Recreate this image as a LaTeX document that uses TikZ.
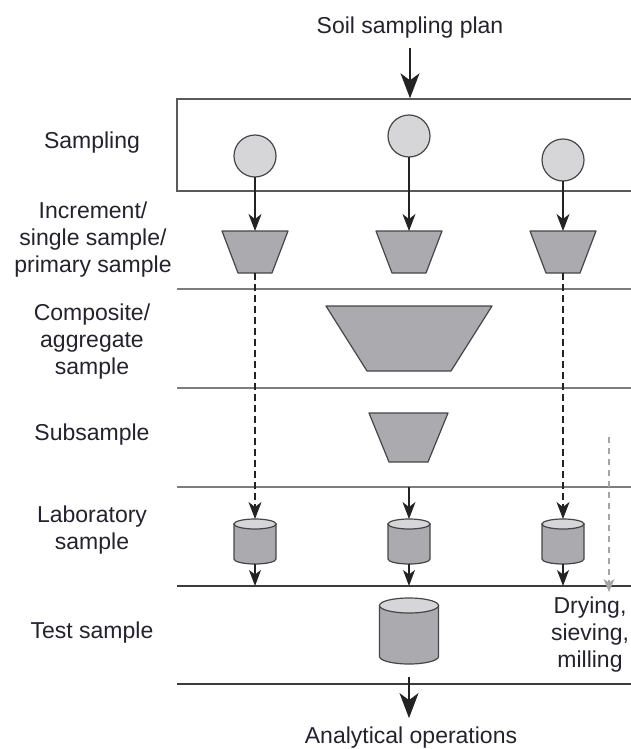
\documentclass[tikz,border=0pt]{standalone}
\usepackage{fontspec}
\setmainfont{Liberation Sans}
\usetikzlibrary{arrows.meta}
\definecolor{txt}{RGB}{35,35,45}
\definecolor{circfill}{RGB}{214,214,217}
\definecolor{trapfill}{RGB}{170,170,175}
\definecolor{outl}{RGB}{70,70,72}
\definecolor{lgline}{RGB}{125,125,125}
\definecolor{dkline}{RGB}{60,60,60}
\definecolor{boxline}{RGB}{90,90,90}
\definecolor{arrcol}{RGB}{35,35,35}
\definecolor{gdash}{RGB}{165,165,165}
\newcommand\drawtrap[2]{\filldraw[trap] (#1.north west) -- (#1.north east) -- ([xshift=-#2]#1.south east) -- ([xshift=#2]#1.south west) -- cycle;}
\newcommand\drawcyl[3]{%
  \filldraw[cylb] ([yshift=-#3]#1.north west) -- ([yshift=#3]#1.south west) arc[start angle=180,end angle=360,x radius=#2,y radius=#3] -- ([yshift=-#3]#1.north east) -- cycle;
  \filldraw[cylt] ([yshift=-#3]#1.north) ellipse[x radius=#2,y radius=#3];}
\begin{document}
\begin{tikzpicture}[x=1pt,y=1pt,
  lbl/.style={font=\fontsize{23}{27}\selectfont, text=txt, align=center, inner sep=0pt},
  hlinel/.style={draw=lgline, line width=1.4pt},
  hlined/.style={draw=dkline, line width=1.4pt},
  frame/.style={draw=none, inner sep=0pt, outer sep=0pt},
  circ/.style={circle, draw=outl, fill=circfill, line width=1.2pt, minimum size=42pt, inner sep=0pt, outer sep=0pt},
  trap/.style={draw=outl, fill=trapfill, line width=1.2pt, line join=round},
  cylb/.style={draw=outl, fill=trapfill, line width=1.2pt},
  cylt/.style={draw=outl, fill=circfill, line width=1.2pt},
  arr/.style={draw=arrcol, line width=1.1pt, -{Stealth[length=17pt,width=13pt,inset=5pt]}},
  bigarr/.style={draw=arrcol, line width=1.1pt, -{Stealth[length=25pt,width=19pt,inset=7pt]}},
  smarr/.style={draw=arrcol, line width=1.1pt, -{Stealth[length=16pt,width=12pt,inset=4.5pt]}},
  dasharr/.style={arr, dash pattern=on 7pt off 4pt},
  garr/.style={draw=gdash, line width=1.3pt, dash pattern=on 6pt off 5pt, -{Stealth[length=13pt,width=11pt,inset=3.5pt]}}
]
\useasboundingbox (0,0) rectangle (631,-749);
\clip (0,0) rectangle (631,-749);

% left labels
\node[lbl] (lsamp) at (92,-143) {Sampling};
\node[lbl] (linc) at (93,-240) {Increment/\\single sample/\\primary sample};
\node[lbl] (lcomp) at (92,-342) {Composite/\\aggregate\\sample};
\node[lbl] (lsub) at (92,-435) {Subsample};
\node[lbl] (llab) at (92,-530) {Laboratory\\sample};
\node[lbl] (ltest) at (92,-633) {Test sample};

% top / bottom texts
\node[lbl] (plan) at (410,-28) {Soil sampling plan};
\node[lbl] (ana) at (411,-738) {Analytical operations};
\node[lbl] (dry) at (590,-635) {Drying,\\sieving,\\milling};

% sampling box
\node[draw=boxline, line width=1.4pt, minimum width=483pt, minimum height=92pt, inner sep=0pt] (box) at (418.5,-145) {};

% horizontal lines
\coordinate (L1) at (177,-289);
\coordinate (L2) at (177,-388);
\coordinate (L3) at (177,-487);
\coordinate (L4) at (177,-586);
\coordinate (L5) at (177,-684);
\draw[hlinel] (L1) -- ++(480,0);
\draw[hlinel] (L2) -- ++(480,0);
\draw[hlinel] (L3) -- ++(480,0);
\draw[hlined] (L4) -- ++(480,0);
\draw[hlined] (L5) -- ++(480,0);

% circles
\node[circ] (s1) at (255,-156) {};
\node[circ] (s2) at (409,-136) {};
\node[circ] (s3) at (563,-160) {};

% trapezoid frames
\node[frame, minimum width=66pt, minimum height=42pt] (i1) at (255,-252) {};
\node[frame, minimum width=66pt, minimum height=42pt] (i2) at (409,-252) {};
\node[frame, minimum width=66pt, minimum height=42pt] (i3) at (563,-252) {};
\node[frame, minimum width=166pt, minimum height=65pt] (co) at (409,-338.5) {};
\node[frame, minimum width=79pt, minimum height=49pt] (sub) at (408.5,-437.5) {};
\drawtrap{i1}{16pt}
\drawtrap{i2}{16pt}
\drawtrap{i3}{16pt}
\drawtrap{co}{41pt}
\drawtrap{sub}{20pt}

% cylinders
\node[frame, minimum width=42pt, minimum height=45pt] (c1) at (255,-541.5) {};
\node[frame, minimum width=42pt, minimum height=45pt] (c2) at (409,-541.5) {};
\node[frame, minimum width=42pt, minimum height=45pt] (c3) at (563,-541.5) {};
\node[frame, minimum width=59pt, minimum height=66pt] (ts) at (409,-631) {};
\drawcyl{c1}{21pt}{5pt}
\drawcyl{c2}{21pt}{5pt}
\drawcyl{c3}{21pt}{5pt}
\drawcyl{ts}{29.5pt}{7.5pt}

% connectors
\draw[bigarr, shorten <=9pt] (plan.south) -- (plan.south |- box.north);
\draw[arr] (s1.south) -- (i1.north);
\draw[arr] (s2.south) -- (i2.north);
\draw[arr] (s3.south) -- (i3.north);
\draw[dasharr] (i1.south) -- (c1.north);
\draw[dasharr] (i3.south) -- (c3.north);
\draw[arr] (c2.north |- L3) -- (c2.north);
\draw[smarr] (c1.south) -- (c1.south |- L4);
\draw[smarr] (c2.south) -- (c2.south |- L4);
\draw[smarr] (c3.south) -- (c3.south |- L4);
\coordinate (g1) at (609,-437);
\coordinate (g2) at (609,-592);
\draw[garr] (g1) -- (g2);
\draw[bigarr, shorten <=13pt, shorten >=9pt] (ts.south) -- (ts.south |- ana.north);
\end{tikzpicture}
\end{document}
